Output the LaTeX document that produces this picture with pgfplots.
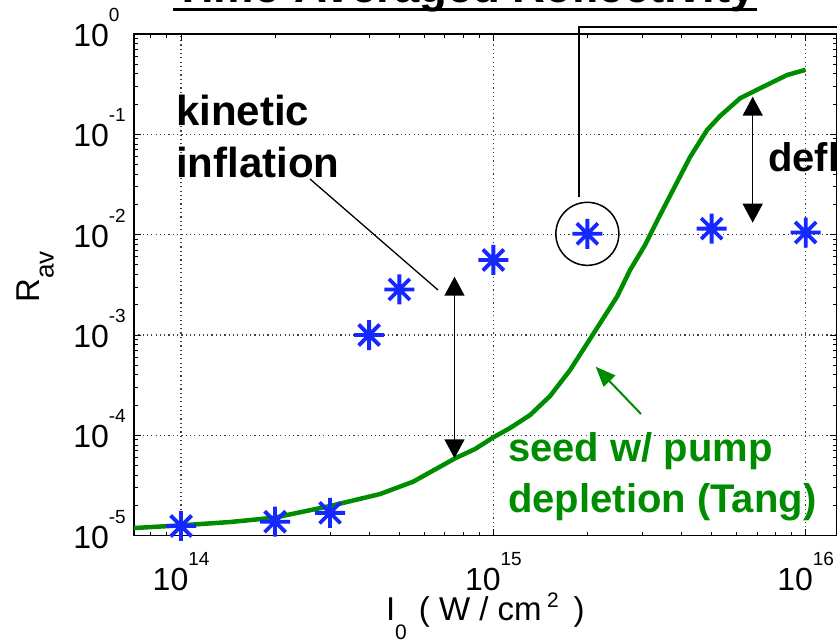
\documentclass[border=0pt]{standalone}
\usepackage{pgfplots}
\pgfplotsset{compat=1.18}
\usepackage{fontspec}
\setmainfont{Liberation Sans}
\usetikzlibrary{arrows.meta}

\definecolor{curvegreen}{RGB}{0,140,0}
\definecolor{ptblue}{RGB}{20,40,255}

% eight-armed asterisk marker
\pgfdeclareplotmark{star8}{%
  \pgfpathmoveto{\pgfqpoint{-\pgfplotmarksize}{0pt}}%
  \pgfpathlineto{\pgfqpoint{\pgfplotmarksize}{0pt}}%
  \pgfpathmoveto{\pgfqpoint{0pt}{-\pgfplotmarksize}}%
  \pgfpathlineto{\pgfqpoint{0pt}{\pgfplotmarksize}}%
  \pgfpathmoveto{\pgfqpoint{-0.7\pgfplotmarksize}{-0.7\pgfplotmarksize}}%
  \pgfpathlineto{\pgfqpoint{0.7\pgfplotmarksize}{0.7\pgfplotmarksize}}%
  \pgfpathmoveto{\pgfqpoint{-0.7\pgfplotmarksize}{0.7\pgfplotmarksize}}%
  \pgfpathlineto{\pgfqpoint{0.7\pgfplotmarksize}{-0.7\pgfplotmarksize}}%
  \pgfusepathqstroke}

% power-of-ten tick label
\newcommand{\tl}[1]{10\raisebox{25pt}{\fontsize{19}{19}\selectfont #1}}

\begin{document}
\begin{tikzpicture}
\useasboundingbox (0pt,0pt) rectangle (837pt,-641pt);
\clip (0pt,0pt) rectangle (837pt,-641pt);
\begin{axis}[
  at={(134pt,-535.7pt)}, anchor=south west,
  scale only axis, width=702.5pt, height=501.7pt,
  xmode=log, ymode=log,
  xmin=7.07e13, xmax=1.256e16, ymin=1e-5, ymax=1,
  xtick={1e14,1e15,1e16}, xticklabels={\tl{14},\tl{15},\tl{16}},
  ytick={1e-5,1e-4,1e-3,1e-2,1e-1,1},
  yticklabels={\tl{-5},\tl{-4},\tl{-3},\tl{-2},\tl{-1},\tl{0}},
  minor xtick={8e13,9e13,2e14,3e14,4e14,5e14,6e14,7e14,8e14,9e14,
               2e15,3e15,4e15,5e15,6e15,7e15,8e15,9e15},
  minor ytick={2e-5,3e-5,4e-5,5e-5,6e-5,7e-5,8e-5,9e-5,
               2e-4,3e-4,4e-4,5e-4,6e-4,7e-4,8e-4,9e-4,
               2e-3,3e-3,4e-3,5e-3,6e-3,7e-3,8e-3,9e-3,
               2e-2,3e-2,4e-2,5e-2,6e-2,7e-2,8e-2,9e-2,
               2e-1,3e-1,4e-1,5e-1,6e-1,7e-1,8e-1,9e-1},
  tick align=inside, tick pos=both,
  major tick length=7pt, minor tick length=4pt,
  every tick/.style={black, line width=1pt},
  axis line style={line width=1.5pt},
  grid=major,
  major grid style={dash pattern=on 1.2pt off 3.1pt, line width=1.2pt, black!75},
  tick label style={font=\fontsize{32}{36}\selectfont},
  xticklabel style={anchor=base, yshift=-54.3pt, inner sep=0pt},
  yticklabel style={anchor=base west, xshift=-61pt, yshift=-12.5pt, inner sep=0pt},
  label style={font=\fontsize{33}{38}\selectfont, inner sep=0pt},
  xlabel={I\raisebox{-19pt}{\fontsize{21}{21}\selectfont 0}\hspace{12pt}( W / cm\,\raisebox{13pt}{\fontsize{21}{21}\selectfont 2}\, )},
  xlabel style={at={(axis description cs:0.5,-0.168)}, anchor=base},
  ylabel={R\raisebox{-14pt}{\fontsize{26}{26}\selectfont av}},
  ylabel style={at={(axis description cs:-0.1345,0.5157)}, anchor=base},
  clip mode=individual,
]
% seed reflectivity with pump depletion
\addplot[curvegreen, line width=4.5pt, no markers] coordinates {
  (7.07e13,1.193e-5) (1e14,1.269e-5) (1.435e14,1.369e-5) (1.986e14,1.512e-5)
  (3.0e14,1.977e-5) (4.337e14,2.603e-5) (5.533e14,3.453e-5) (7.542e14,5.906e-5)
  (8.737e14,7.31e-5) (9.98e14,9.52e-5) (1.131e15,1.184e-4) (1.311e15,1.595e-4)
  (1.519e15,2.467e-4) (1.761e15,4.48e-4) (2.085e15,1.017e-3)
  (2.489e15,2.409e-3) (2.740e15,4.446e-3) (3.060e15,7.887e-3) (3.419e15,1.571e-2)
  (3.819e15,3.055e-2) (4.265e15,5.944e-2) (4.834e15,0.1105) (5.320e15,0.1523)
  (6.166e15,0.2286) (7.145e15,0.2877) (8.718e15,0.3902) (1e16,0.44)
};
% simulated time-averaged reflectivity
\addplot[only marks, mark=star8, mark size=15pt, ptblue,
         mark options={line width=3.8pt}] coordinates {
  (1e14,1.25e-5) (2e14,1.38e-5) (3e14,1.69e-5) (4e14,1.0e-3) (5e14,2.85e-3)
  (1e15,5.6e-3) (2e15,1.02e-2) (5e15,1.15e-2) (1e16,1.05e-2)
};
\draw[line width=1.5pt] (axis cs:2e15,1.02e-2) circle[radius=31.5pt];
\end{axis}

\begin{scope}[x=1pt,y=-1pt]
  \node[anchor=base, inner sep=0pt, font=\bfseries\fontsize{45.5}{50}\selectfont]
    at (465,2.5) {Time-Averaged Reflectivity};
  \draw[line width=3pt] (173,9.5) -- (757,9.5);
  \draw[line width=2.2pt] (579,197) -- (579,26.7) -- (850,26.7);

  \node[anchor=base west, inner sep=0pt, font=\bfseries\fontsize{42}{50}\selectfont]
    at (176,125) {kinetic};
  \node[anchor=base west, inner sep=0pt, font=\bfseries\fontsize{42}{50}\selectfont]
    at (176,177) {inflation};
  \draw[line width=1.3pt] (310,179) -- (438,290);
  \draw[line width=1.5pt, {Triangle[length=19pt,width=20pt]}-{Triangle[length=19pt,width=20pt]}]
    (454.5,276.7) -- (454.5,458.3);

  \draw[line width=1.5pt, {Triangle[length=19pt,width=20pt]}-{Triangle[length=19pt,width=20pt]}]
    (752.7,96.7) -- (752.7,222.7);
  \node[anchor=base west, inner sep=0pt, font=\bfseries\fontsize{40}{50}\selectfont]
    at (768,171.7) {deflation};

  \draw[curvegreen, line width=2pt, -{Triangle[length=20pt,width=16pt]}]
    (641,414) -- (595.7,366.7);
  \node[curvegreen, anchor=base west, inner sep=0pt, font=\bfseries\fontsize{40}{50}\selectfont]
    at (508,461.7) {seed w/ pump};
  \node[curvegreen, anchor=base west, inner sep=0pt, font=\bfseries\fontsize{40}{50}\selectfont]
    at (508,512) {depletion (Tang)};
\end{scope}
\end{tikzpicture}
\end{document}
